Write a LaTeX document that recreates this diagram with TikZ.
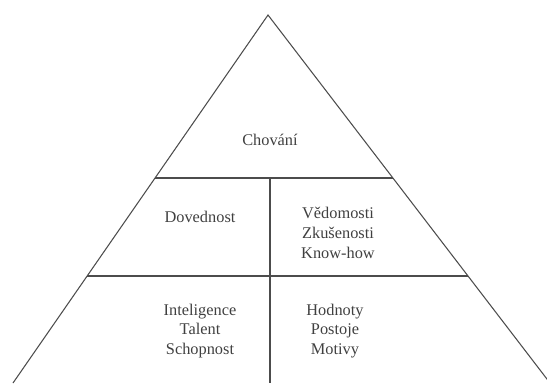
\documentclass[tikz,border=0pt]{standalone}
\usepackage{fontspec}
\newfontfamily\pyrfont{Liberation Serif}
\usetikzlibrary{calc}

\tikzset{
  edge/.style={line width=0.6pt, black!70},
  lbl/.style={text=black!75, align=center, font=\pyrfont\fontsize{9.3}{11.2}\selectfont}
}

\begin{document}
\begin{tikzpicture}[x=0.02cm, y=-0.02cm]

\useasboundingbox (0,0) rectangle (547,383);
\clip (0,0) rectangle (547,383);

% corners of the pyramid
\coordinate (top) at (268,15);
\coordinate (bl) at (13,383);
\coordinate (br) at (550,383);

\draw[edge] (bl) -- (top) -- (br);

% levels
\coordinate (l1) at ($(top)!163/368!(bl)$);
\coordinate (r1) at ($(top)!163/368!(br)$);
\coordinate (l2) at ($(top)!261/368!(bl)$);
\coordinate (r2) at ($(top)!261/368!(br)$);
\coordinate (mid1) at (270,178);
\coordinate (mid2) at (270,383);

\draw[edge] (l1) -- (r1);
\draw[edge] (l2) -- (r2);
\draw[edge] (mid1) -- (mid2);

\node[lbl] (chovani) at (270,140) {Chování};
\node[lbl] (dovednost) at (200,217) {Dovednost};
\node[lbl] (vedomosti) at (338,233) {Vědomosti\\Zkušenosti\\Know-how};
\node[lbl] (inteligence) at (200,331) {Inteligence\\Talent\\Schopnost};
\node[lbl] (hodnoty) at (335,331) {Hodnoty\\Postoje\\Motivy};

\end{tikzpicture}
\end{document}
